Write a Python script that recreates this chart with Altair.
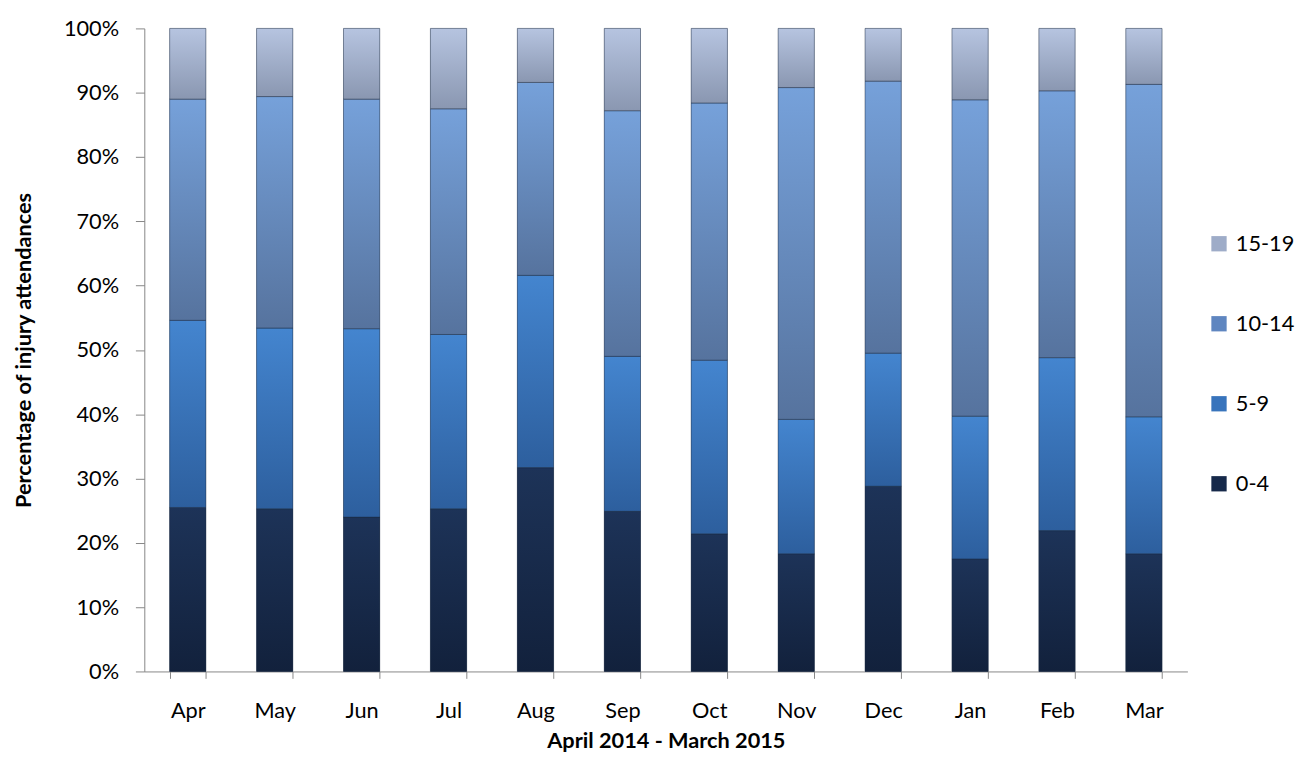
import altair as alt
import pandas as pd

months = ["Apr", "May", "Jun", "Jul", "Aug", "Sep", "Oct", "Nov", "Dec", "Jan", "Feb", "Mar"]
ages = ["0-4", "5-9", "10-14", "15-19"]
age_0_4 = [25.5, 25.3, 24.0, 25.3, 31.7, 24.9, 21.4, 18.3, 28.8, 17.5, 21.9, 18.3]
age_5_9 = [29.1, 28.1, 29.3, 27.1, 29.9, 24.1, 27.0, 20.9, 20.7, 22.2, 26.9, 21.3]
age_10_14 = [34.4, 36.0, 35.7, 35.1, 30.0, 38.2, 40.0, 51.6, 42.3, 49.2, 41.5, 51.7]
age_15_19 = [11.0, 10.6, 11.0, 12.5, 8.4, 12.8, 11.6, 9.2, 8.2, 11.1, 9.7, 8.7]

series = [age_0_4, age_5_9, age_10_14, age_15_19]
rows = []
for k, (age, vals) in enumerate(zip(ages, series)):
    for m, v in zip(months, vals):
        rows.append({"month": m, "age": age, "value": v, "ord": k})
df = pd.DataFrame(rows)

flat = {"0-4": "#16294a", "5-9": "#3874bc", "10-14": "#5f86c0", "15-19": "#9eacc8"}
grad = {
    "0-4": ("#1d3358", "#12213c"),
    "5-9": ("#4485cf", "#2d5f9e"),
    "10-14": ("#76a1da", "#56739e"),
    "15-19": ("#b6c4e0", "#8a97b1"),
}
legend_order = ["15-19", "10-14", "5-9", "0-4"]

FONT = "Lato"

x_enc = alt.X(
    "month:N",
    sort=months,
    scale=alt.Scale(paddingInner=0.583, paddingOuter=0.2915),
    axis=alt.Axis(
        title="April 2014 - March 2015",
        labelAngle=0,
        tickBand="extent",
        tickSize=7,
        labelPadding=23,
        titlePadding=9,
        labelFontSize=22,
        titleFontSize=22,
        titleFontWeight="bold",
        domainColor="#868686",
        tickColor="#868686",
        labelColor="#000000",
        titleColor="#000000",
    ),
)
y_enc = alt.Y(
    "y0:Q",
    scale=alt.Scale(domain=[0, 100], nice=False),
    axis=alt.Axis(
        values=list(range(0, 101, 10)),
        labelExpr="datum.value + '%'",
        title="Percentage of injury attendances",
        tickSize=9,
        labelPadding=17,
        titlePadding=28,
        labelFontSize=22,
        titleFontSize=22,
        titleFontWeight="bold",
        grid=False,
        domainColor="#868686",
        tickColor="#868686",
        labelColor="#000000",
        titleColor="#000000",
    ),
)

base = alt.Chart(df).transform_stack(
    stack="value",
    groupby=["month"],
    as_=["y0", "y1"],
    sort=[alt.SortField("ord", order="ascending")],
)

legend_layer = base.mark_bar().encode(
    x=x_enc,
    y=y_enc,
    y2="y1:Q",
    color=alt.Color(
        "age:N",
        scale=alt.Scale(domain=legend_order, range=[flat[a] for a in legend_order]),
        legend=alt.Legend(
            title=None,
            orient="none",
            legendX=1077,
            legendY=207,
            symbolType="square",
            symbolSize=240,
            symbolStrokeWidth=0,
            labelFontSize=22,
            labelColor="#000000",
            labelOffset=6,
            rowPadding=59,
        ),
    ),
)

layers = [legend_layer]
for age in ages:
    top, bottom = grad[age]
    layers.append(
        base.transform_filter(alt.datum.age == age)
        .mark_bar(
            color=alt.Gradient(
                gradient="linear",
                x1=0, y1=0, x2=0, y2=1,
                stops=[
                    alt.GradientStop(color=top, offset=0),
                    alt.GradientStop(color=bottom, offset=1),
                ],
            ),
            stroke="#1b2a40",
            strokeWidth=0.8,
            strokeOpacity=0.6,
        )
        .encode(x=x_enc, y=y_enc, y2="y1:Q")
    )

chart = (
    alt.layer(*layers)
    .properties(width=1056, height=651)
    .configure(font=FONT)
    .configure_view(stroke=None)
)

chart.save("out.html", embed_options={"renderer": "svg", "actions": False})
